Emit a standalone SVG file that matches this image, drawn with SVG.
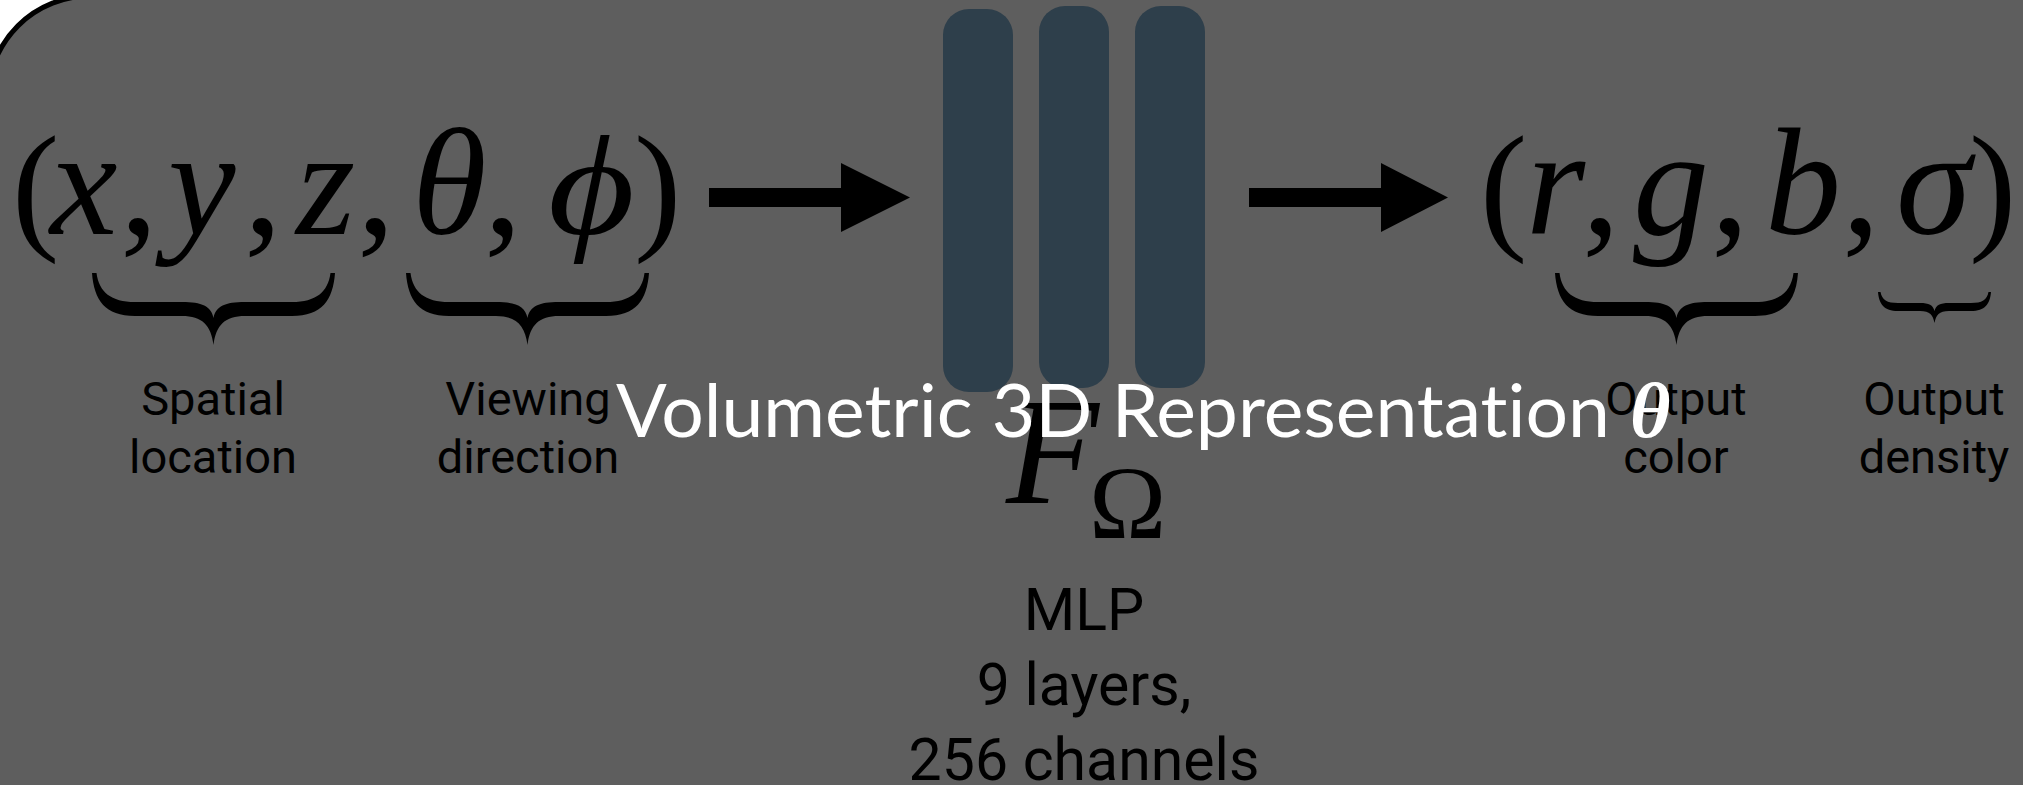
<svg xmlns="http://www.w3.org/2000/svg" width="2023" height="785" viewBox="0 0 2023 785">
  <style>
    .math { font-family: "Liberation Serif", "DejaVu Serif", serif; font-size: 142px; fill: #000; }
    .it { font-style: italic; font-size: 152px; }
    .up { font-style: normal; }
    .cm { font-style: normal; font-size: 152px; }
    .label { font-family: Roboto, "Liberation Sans", sans-serif; font-size: 47px; fill: #000; text-anchor: middle; }
    .mlp { font-family: Roboto, "Liberation Sans", sans-serif; font-size: 59px; fill: #000; text-anchor: middle; }
    .layer { fill: #2e3f4b; }
    .brace { fill: #000; }
    .arrow { fill: #000; }
    .title { font-family: Lato, "Open Sans", sans-serif; font-size: 74px; fill: #fff; font-variant-ligatures: none; font-feature-settings: "liga" 0; }
    .title-sym { font-family: "Liberation Serif", serif; font-style: italic; font-weight: bold; font-size: 78px; fill: #fff; }
  </style>
  <defs>
    <!-- wide underbrace, 243 wide, top at y=0, tip at y=72 -->
    <path id="brace-wide" d="M0,0 C2,27 13,43 43,43 L90,43 C110,43 119,52 121.5,72 C124,52 133,43 153,43 L200,43 C230,43 241,27 243,0 L238.5,0 C236,19 224,29 200,29 L153,29 C133,29 124,33 121.5,45 C119,33 110,29 90,29 L43,29 C19,29 7,19 4.5,0 Z"/>
    <!-- narrow underbrace, 113 wide -->
    <path id="brace-narrow" d="M0,0 C1,12 6,19 20,19 L42,19 C52,19 55,23 56.5,31 C58,23 61,19 71,19 L93,19 C107,19 112,12 113,0 L110.5,0 C109,8 104,11 93,11 L71,11 C62,11 58,13 56.5,19 C55,13 51,11 42,11 L20,11 C9,11 4,8 2.5,0 Z"/>
  </defs>

  <rect x="0" y="0" width="2023" height="785" fill="#fff"/>
  <!-- panel -->
  <rect x="-12" y="-4" width="2200" height="900" rx="102" ry="102" fill="#5e5e5e" stroke="#000" stroke-width="5"/>

  <!-- input tuple -->
  <g id="input">
    <text class="math" y="234">
      <tspan class="up" x="12">(</tspan><tspan class="it" x="50">x</tspan><tspan class="cm" x="120">,</tspan><tspan class="it" x="168">y</tspan><tspan class="cm" x="244">,</tspan><tspan class="it" x="296">z</tspan><tspan class="cm" x="357">,</tspan><tspan class="it" x="412">θ</tspan><tspan class="cm" x="484">,</tspan><tspan class="up" x="634">)</tspan>
    </text>
    <text class="math" font-style="italic" transform="translate(548,234) scale(1.18,1)">ϕ</text>
    <use href="#brace-wide" class="brace" x="92" y="273"/>
    <use href="#brace-wide" class="brace" x="406" y="273"/>
    <text class="label" x="213" y="415">Spatial</text>
    <text class="label" x="213" y="473">location</text>
    <text class="label" x="528" y="415">Viewing</text>
    <text class="label" x="528" y="473">direction</text>
  </g>

  <!-- network -->
  <g id="mlp">
    <rect class="layer" x="943" y="9" width="70" height="383" rx="26"/>
    <rect class="layer" x="1039" y="6" width="70" height="382" rx="26"/>
    <rect class="layer" x="1135" y="6" width="70" height="382" rx="26"/>
    <text class="math" y="503"><tspan class="it" x="1006" font-size="152">F</tspan><tspan class="up" x="1089" y="538" font-size="104">Ω</tspan></text>
    <text class="mlp" x="1084" y="630">MLP</text>
    <text class="mlp" x="1084" y="705">9 layers,</text>
    <text class="mlp" x="1084" y="780">256 channels</text>
  </g>

  <!-- output tuple -->
  <g id="output">
    <text class="math" y="234">
      <tspan class="up" x="1480">(</tspan><tspan class="it" x="1526">r</tspan><tspan class="cm" x="1582">,</tspan><tspan class="it" x="1633">g</tspan><tspan class="cm" x="1711">,</tspan><tspan class="it" x="1765">b</tspan><tspan class="cm" x="1842">,</tspan><tspan class="it" x="1896">σ</tspan><tspan class="up" x="1969">)</tspan>
    </text>
    <use href="#brace-wide" class="brace" x="1555" y="273"/>
    <use href="#brace-narrow" class="brace" x="1878" y="292"/>
    <text class="label" x="1676" y="415">Output</text>
    <text class="label" x="1676" y="473">color</text>
    <text class="label" x="1934" y="415">Output</text>
    <text class="label" x="1934" y="473">density</text>
  </g>

  <!-- connectors -->
  <g id="connectors">
    <path class="arrow" d="M709,188 H841 V163 L910,197.5 L841,232 V207 H709 Z"/>
    <path class="arrow" d="M1249,188 H1381 V163 L1448,197.5 L1381,232 V207 H1249 Z"/>
  </g>

  <!-- caption over the figure -->
  <g id="caption">
    <text class="title" x="616" y="437" textLength="994" lengthAdjust="spacingAndGlyphs">Volumetric 3D Representation</text>
    <text class="title-sym" x="1630" y="437">θ</text>
  </g>
</svg>
